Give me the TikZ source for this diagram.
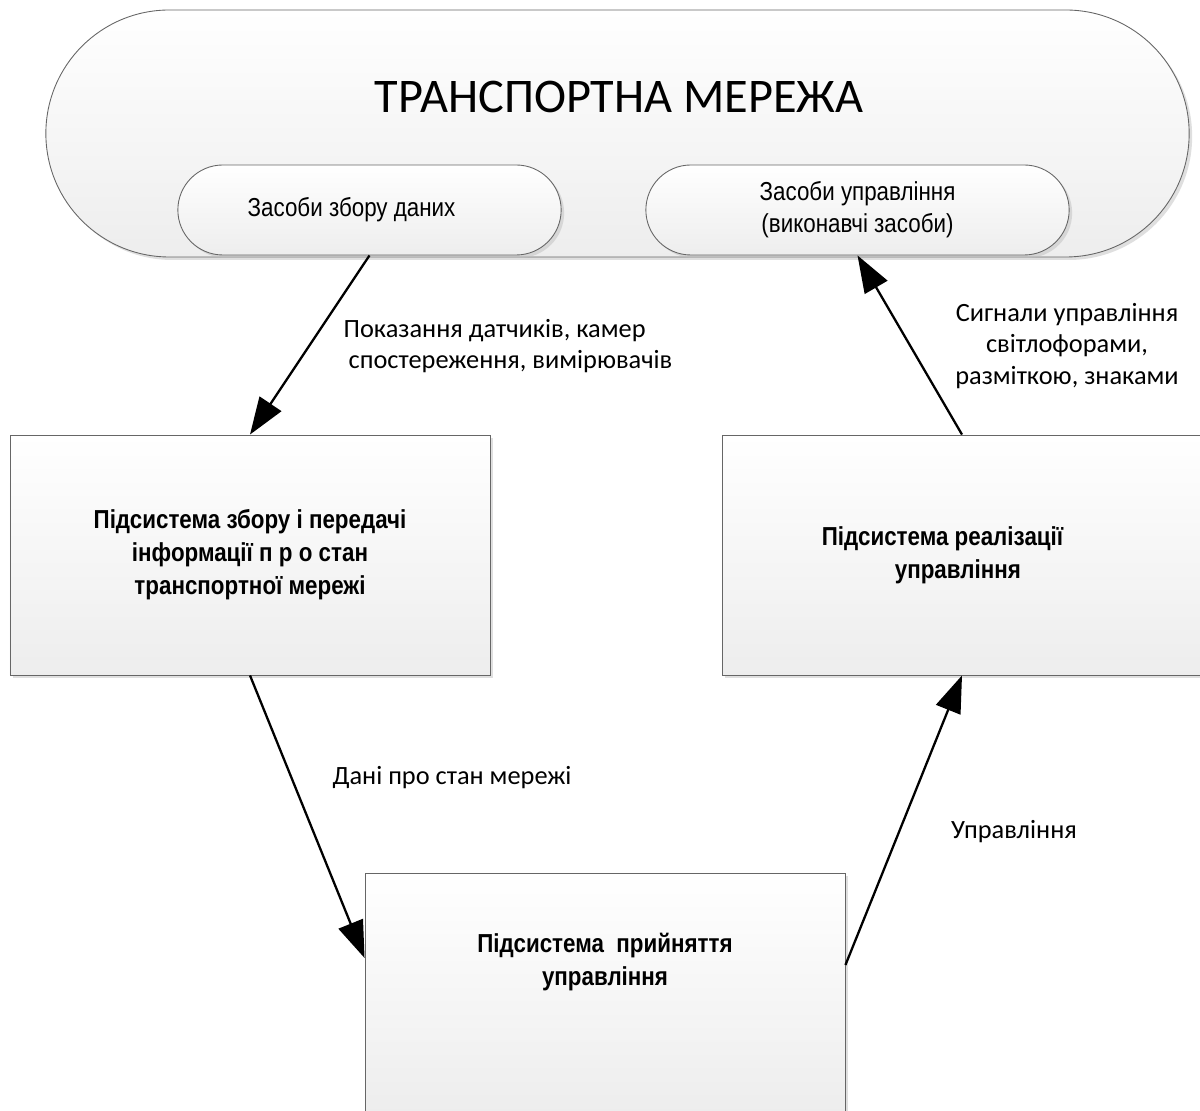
\documentclass[tikz,border=0pt]{standalone}
\usepackage{fontspec}
\setmainfont{Carlito}
\newfontfamily\narrowsans[FakeStretch=0.86]{Liberation Sans}
\usetikzlibrary{arrows.meta,shapes.misc,shadows}
\begin{document}
\begin{tikzpicture}[
    pill/.style={rounded rectangle, draw=black!60, line width=0.5pt,
      top color=white, bottom color=black!7,
      drop shadow={shadow xshift=0.06cm, shadow yshift=-0.06cm, fill=black!25}},
    subsys/.style={rectangle, draw=black!60, line width=0.5pt,
      top color=white, bottom color=black!7,
      drop shadow={shadow xshift=0.06cm, shadow yshift=-0.06cm, fill=black!25},
      minimum width=9.6cm, minimum height=4.8cm},
    boxtext/.style={font=\narrowsans\bfseries\fontsize{14.8}{18.8}\selectfont},
    pilltext/.style={font=\narrowsans\fontsize{14.8}{18.2}\selectfont, align=center},
    flow/.style={-{Triangle[length=7.4mm,width=5.2mm]}, line width=1.3pt},
    lbl/.style={font=\fontsize{15}{18}\selectfont}]
  \useasboundingbox (0,0) rectangle (24,22.2);
  % transport network
  \node[pill, minimum width=23.1cm, minimum height=4.94cm] (net) at (12.35,19.53) {};
  \node[font=\fontsize{27.5}{33}\selectfont] (title) at (12.38,20.26) {ТРАНСПОРТНА МЕРЕЖА};
  \node[pill, pilltext, minimum width=7.9cm, minimum height=1.8cm] (sensors) at (7.39,18.0) {Засоби збору даних\hspace*{0.72cm}};
  \node[pill, pilltext, minimum width=8.7cm, minimum height=1.8cm] (actuators) at (17.15,18.0) {Засоби управління\\(виконавчі засоби)};
  % subsystems
  \node[subsys, boxtext, align=center] (collect) at (5.0,11.1) {Підсистема збору і передачі\\інформації  п р о  стан\\транспортної мережі};
  \node[subsys] (implement) at (19.24,11.1) {};
  \node[boxtext, align=left] (implementtext) at (18.85,11.1) {Підсистема реалізації\\\hspace*{1.46cm}управління};
  \node[subsys] (decide) at (12.1,2.34) {};
  \node[boxtext, align=center] (decidetext) at (12.1,2.96) {Підсистема~~прийняття\\ управління};
  % flows
  \draw[flow] (sensors.south) -- (collect.north);
  \draw[flow] (collect.south) -- ([yshift=0.7cm]decide.west);
  \draw[flow] ([yshift=0.56cm]decide.east) -- (implement.south);
  \draw[flow] (implement.north) -- (actuators.south);
  \node[lbl, align=left] (readings) at (10.16,15.28) {Показання датчиків, камер\\\hspace*{0.1cm}спостереження, вимірювачів};
  \node[lbl, align=center] (signals) at (21.34,15.28) {Сигнали управління\\світлофорами,\\разміткою, знаками};
  \node[lbl] (state) at (9.04,6.64) {Дані про стан мережі};
  \node[lbl] (control) at (20.28,5.56) {Управління};
\end{tikzpicture}
\end{document}
